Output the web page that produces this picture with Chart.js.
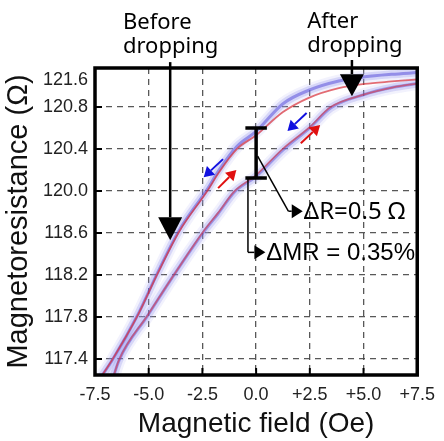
<!DOCTYPE html>
<html>
<head>
<meta charset="utf-8">
<script src="https://cdn.jsdelivr.net/npm/chart.js@4/dist/chart.umd.min.js"></script>
<style>
    body { margin: 0; background: #ffffff; }
    canvas { display: block; }
</style>
</head>
<body>
<canvas id="chart" width="444" height="441"></canvas>
<script>
// x : magnetic field (Oe); y : position on the resistance grid (1 = 117.4 ... 7 = 120.8)
const xTicks = [-7.5, -5.0, -2.5, 0.0, 2.5, 5.0, 7.5];

const yTickPos = [1, 2, 3, 4, 5, 6, 7, 7.64];
const yTickLabels = ["117.4", "117.8", "118.2", "118.6", "120.0", "120.4", "120.8", "121.6"];

const fieldBefore = [-7.45, -6.7, -5.5, -4.6, -3.6, -2.25, -1.75, -0.9, 0.0, 1.25, 2.45, 3.85, 5.05, 6.3, 7.5];
const levelBeforeRed = [0.40, 0.98, 2.05, 3.02, 4.02, 5.02, 5.43, 6.00, 6.33, 6.88, 7.22, 7.45, 7.55, 7.61, 7.66];
const levelBeforeBlue = [0.40, 0.97, 2.06, 3.04, 4.05, 5.06, 5.48, 6.06, 6.42, 7.08, 7.40, 7.62, 7.72, 7.78, 7.82];

const fieldAfter = [-6.75, -6.38, -5.04, -3.83, -2.48, -1.77, -1.0, 0.0, 1.23, 2.49, 3.47, 5.04, 6.38, 7.5];
const levelAfterRed = [0.40, 0.98, 2.05, 3.00, 4.02, 4.48, 5.00, 5.38, 6.00, 6.52, 7.00, 7.30, 7.47, 7.56];
const levelAfterBlue = [0.40, 0.97, 2.04, 3.00, 4.00, 4.46, 4.98, 5.35, 5.97, 6.50, 6.98, 7.30, 7.47, 7.56];

function points(xs, ys)
{
    return xs.map((x, i) => ({ x: x, y: ys[i] }));
}

function fmtField(v)
{
    if(Math.abs(v) < 1e-9)
    {
        return "0.0";
    }

    return (v > 0 ? "+" : "") + v.toFixed(1);
}

function arrow(ctx, x1, y1, x2, y2, color, width, head, half)
{
    const a = Math.atan2(y2 - y1, x2 - x1);
    const bx = x2 - head * Math.cos(a);
    const by = y2 - head * Math.sin(a);

    ctx.strokeStyle = color;
    ctx.fillStyle = color;
    ctx.lineWidth = width;
    ctx.beginPath();
    ctx.moveTo(x1, y1);
    ctx.lineTo(bx, by);
    ctx.stroke();

    ctx.beginPath();
    ctx.moveTo(x2, y2);
    ctx.lineTo(bx + half * Math.sin(a), by - half * Math.cos(a));
    ctx.lineTo(bx - half * Math.sin(a), by + half * Math.cos(a));
    ctx.closePath();
    ctx.fill();
}

const decor =
{
    id: "decor",
    afterDatasetsDraw(chart)
    {
        const ctx = chart.ctx;
        const area = chart.chartArea;
        const xs = chart.scales.x;
        const ys = chart.scales.y;
        const px = v => xs.getPixelForValue(v);
        const py = v => ys.getPixelForValue(v);

        ctx.save();

        // inward tick marks
        ctx.strokeStyle = "#000";
        ctx.lineWidth = 2;
        ctx.beginPath();
        xTicks.slice(1, -1).forEach(v =>
        {
            ctx.moveTo(px(v), area.bottom);
            ctx.lineTo(px(v), area.bottom - 7);
        });
        yTickPos.slice(0, 7).forEach(v =>
        {
            ctx.moveTo(area.left, py(v));
            ctx.lineTo(area.left + 7, py(v));
        });
        ctx.stroke();

        // frame
        ctx.lineWidth = 3.5;
        ctx.strokeRect(area.left, area.top, area.right - area.left, area.bottom - area.top);

        // small sweep arrows
        arrow(ctx, px(-1.54), py(5.76), px(-2.44), py(5.33), "#1010e0", 2, 10, 6);
        arrow(ctx, px(-1.77), py(5.07), px(-0.92), py(5.50), "#e01010", 2, 10, 6);
        arrow(ctx, px(2.35), py(6.86), px(1.46), py(6.43), "#1010e0", 2, 10, 6);
        arrow(ctx, px(2.08), py(6.14), px(2.98), py(6.57), "#e01010", 2, 10, 6);

        // error bar
        ctx.strokeStyle = "#000";
        ctx.lineWidth = 3.5;
        ctx.beginPath();
        ctx.moveTo(px(0), py(6.5));
        ctx.lineTo(px(0), py(5.31));
        ctx.moveTo(px(-0.5), py(6.5));
        ctx.lineTo(px(0.5), py(6.5));
        ctx.moveTo(px(-0.5), py(5.31));
        ctx.lineTo(px(0.5), py(5.31));
        ctx.stroke();

        // leaders
        ctx.lineWidth = 1.5;
        ctx.beginPath();
        ctx.moveTo(px(0.07), py(5.83));
        ctx.lineTo(px(1.5), py(4.52));
        ctx.stroke();
        arrow(ctx, px(1.5), py(4.52), px(2.17), py(4.52), "#000", 1.5, 11, 7);

        ctx.beginPath();
        ctx.moveTo(px(-0.38), py(5.31));
        ctx.lineTo(px(-0.38), py(3.54));
        ctx.stroke();
        arrow(ctx, px(-0.38), py(3.54), px(0.43), py(3.54), "#000", 1.5, 11, 7);

        // big arrows
        arrow(ctx, px(-4.0), py(8.07), px(-4.0), py(3.83), "#000", 2.5, 23, 12);
        arrow(ctx, px(4.46), py(8.12), px(4.46), py(7.26), "#000", 2.5, 22, 12);

        // text
        ctx.fillStyle = "#000";
        ctx.textBaseline = "middle";
        ctx.textAlign = "left";
        ctx.font = "22px 'Noto Sans'";
        ctx.fillText("Before", px(-6.2), py(9.0));
        ctx.fillText("dropping", px(-6.2), py(8.43));
        ctx.fillText("After", px(2.38), py(9.02));
        ctx.fillText("dropping", px(2.38), py(8.45));

        ctx.font = "24px 'Noto Sans'";
        ctx.fillText("\u0394R=0.5 \u03A9", px(2.22), py(4.5));
        ctx.font = "24px 'Liberation Sans'";
        ctx.fillText("\u0394MR = 0.35%", px(0.47), py(3.52));

        ctx.restore();
    }
};

const gridGray = "rgba(70,70,70,0.9)";

const datasets = [
    {
        data: points(fieldBefore, levelBeforeRed),
        borderColor: "rgba(215,45,55,0.7)",
        borderWidth: 1.8,
        order: 1
    },
    {
        data: points(fieldAfter, levelAfterRed),
        borderColor: "rgba(215,45,55,0.55)",
        borderWidth: 1.8,
        order: 1
    },
    {
        data: points(fieldBefore, levelBeforeBlue),
        borderColor: "rgba(80,70,215,0.5)",
        borderWidth: 3,
        order: 2
    },
    {
        data: points(fieldAfter, levelAfterBlue),
        borderColor: "rgba(80,70,215,0.45)",
        borderWidth: 3,
        order: 2
    },
    {
        data: points(fieldBefore, levelBeforeBlue),
        borderColor: "rgba(150,150,235,0.3)",
        borderWidth: 8,
        order: 3
    },
    {
        data: points(fieldAfter, levelAfterBlue),
        borderColor: "rgba(150,150,235,0.3)",
        borderWidth: 8,
        order: 3
    },
    {
        data: points(fieldBefore, levelBeforeBlue),
        borderColor: "rgba(170,170,240,0.15)",
        borderWidth: 13,
        order: 4
    },
    {
        data: points(fieldAfter, levelAfterBlue),
        borderColor: "rgba(170,170,240,0.15)",
        borderWidth: 13,
        order: 4
    }
];

datasets.forEach(d =>
{
    d.pointRadius = 0;
    d.fill = false;
    d.cubicInterpolationMode = "monotone";
});

new Chart(
    document.getElementById("chart"),
    {
        type: "line",
        data: { datasets },
        plugins: [decor],
        options:
        {
            responsive: false,
            animation: false,
            devicePixelRatio: 1,
            layout: { padding: { top: 68, right: 14, left: 0, bottom: 0 } },
            plugins:
            {
                legend: { display: false },
                tooltip: { enabled: false }
            },
            scales:
            {
                x:
                {
                    type: "linear",
                    min: -7.5,
                    max: 7.5,
                    afterBuildTicks: s => { s.ticks = xTicks.map(v => ({ value: v })); },
                    afterFit: s => { s.height = 66; },
                    grid: { color: gridGray, lineWidth: 1.3, drawTicks: false },
                    border: { display: false, dash: [6, 5] },
                    ticks:
                    {
                        padding: 9,
                        color: "#222",
                        font: { family: "'Liberation Sans'", size: 18 },
                        maxRotation: 0,
                        callback: v => fmtField(v)
                    },
                    title:
                    {
                        display: true,
                        text: "Magnetic field (Oe)",
                        color: "#111",
                        font: { family: "'Liberation Sans'", size: 28 },
                        padding: { top: 0, bottom: 0 }
                    }
                },
                y:
                {
                    type: "linear",
                    min: 0.62,
                    max: 7.93,
                    afterBuildTicks: s => { s.ticks = yTickPos.map(v => ({ value: v })); },
                    afterFit: s => { s.width = 95; },
                    grid:
                    {
                        color: c => (c.tick && c.tick.value > 7.5) ? "rgba(0,0,0,0)" : gridGray,
                        lineWidth: 1.3,
                        drawTicks: false
                    },
                    border: { display: false, dash: [6, 5] },
                    ticks:
                    {
                        padding: 7,
                        color: "#222",
                        font: { family: "'Liberation Sans'", size: 18 },
                        callback: v => yTickLabels[yTickPos.indexOf(v)]
                    },
                    title:
                    {
                        display: true,
                        text: "Magnetoresistance (\u03A9)",
                        color: "#111",
                        font: { family: "'Liberation Sans'", size: 29 },
                        padding: { top: 2, bottom: 0 }
                    }
                }
            }
        }
    }
);
</script>
</body>
</html>
